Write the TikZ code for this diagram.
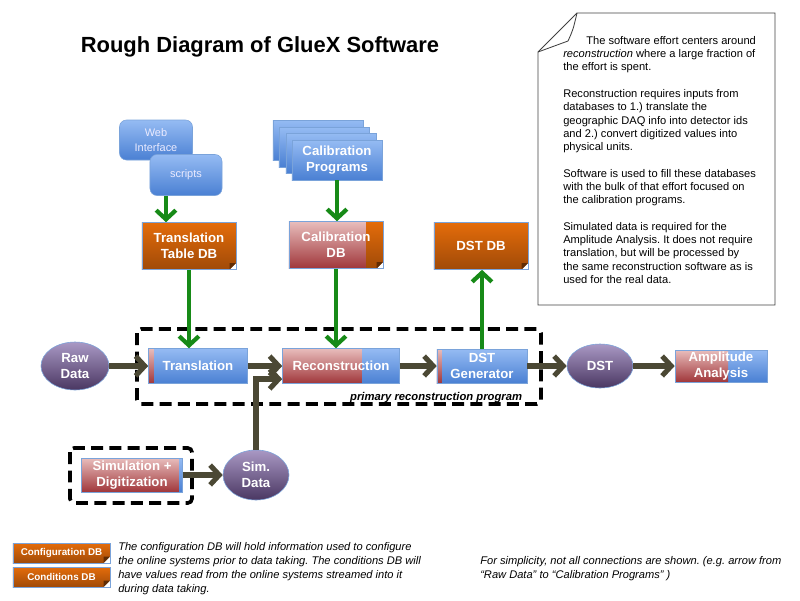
\documentclass[tikz,border=0pt]{standalone}
\usepackage{fontspec}
\setmainfont{Liberation Sans}
\usetikzlibrary{arrows.meta,shapes.geometric}
\frenchspacing

\definecolor{blueT}{HTML}{95BBF3}
\definecolor{blueB}{HTML}{4A80D3}
\definecolor{dbT}{HTML}{E46C0A}
\definecolor{dbB}{HTML}{A04A08}
\definecolor{redT}{HTML}{E8BDBC}
\definecolor{redB}{HTML}{A0363A}
\definecolor{purpT}{HTML}{A998C4}
\definecolor{purpB}{HTML}{4A3762}
\definecolor{edgeblue}{HTML}{7AA3DA}
\definecolor{flowcol}{HTML}{4B4834}
\definecolor{feedgreen}{HTML}{178A17}

% small folded corner of a database box
\newcommand{\dbfold}{%
  \fill[white] (path picture bounding box.south east) -- ++(-4.5pt,0pt) -- ++(4.5pt,4.5pt) -- cycle;
  \fill[dbB!60!black] ([xshift=-4.5pt]path picture bounding box.south east) -- ++(4.5pt,4.5pt) -- ++(-4.5pt,0pt) -- cycle;}

\begin{document}
\begin{tikzpicture}[x=0.025cm, y=-0.025cm, >={Straight Barb[length=6.5pt,width=14pt]},
    box/.style={draw=edgeblue, inner sep=0pt, align=center, text=white,
      font=\fontsize{9.4}{11.5}\selectfont\bfseries},
    prog/.style={box, top color=blueT, bottom color=blueB},
    dbbox/.style={box, top color=dbT, bottom color=dbB, path picture={\dbfold}},
    redpart/.style={path picture={\shade[top color=redT, bottom color=redB]
      (path picture bounding box.north west) rectangle ([xshift=#1]path picture bounding box.south west);}},
    datablob/.style={ellipse, draw=edgeblue, top color=purpT, bottom color=purpB, inner sep=0pt,
      text=white, align=center, font=\fontsize{9.4}{11.5}\selectfont\bfseries},
    dashbox/.style={draw=black, line width=2.6pt, dash pattern=on 8.5pt off 4.5pt, rounded corners=3pt},
    webbox/.style={draw=edgeblue, rounded corners=5pt, top color=blueT, bottom color=blueB, align=center,
      inner sep=0pt, text=white!92!blue, font=\fontsize{7.8}{11}\selectfont}]
  \useasboundingbox (0,0) rectangle (800,600);

  \node[font=\fontsize{15.6}{18}\selectfont\bfseries] (title) at (260,47) {Rough Diagram of GlueX Software};

  % groups of programs
  \draw[dashbox] (137,329) rectangle (541,404);
  \draw[dashbox] (70,448) rectangle (192,503);
  \node[font=\fontsize{8}{9.6}\selectfont\bfseries\itshape, anchor=base east] (primlabel) at (527,400)
    {primary reconstruction program};

  % inputs
  \node[webbox, minimum width=1.825cm, minimum height=1cm] (web) at (156,140) {Web\\Interface};
  \node[webbox, minimum width=1.8cm, minimum height=1.025cm] (scripts) at (186,175) {scripts};
  \begin{scope}[every node/.style={prog, minimum width=2.25cm, minimum height=1cm}]
    \node (calback1) at (318,140) {};
    \node (calback2) at (324,147) {};
    \node (calback3) at (331,153) {};
    \node (calprog) at (337,160) {Calibration\\Programs};
  \end{scope}

  % databases
  \begin{scope}[every node/.style={minimum width=2.35cm, minimum height=1.175cm}]
    \node[dbbox] (ttdb) at (189,246) {Translation\\Table DB};
    \node[box, top color=redT, bottom color=redB, path picture={\shade[top color=dbT, bottom color=dbB]
      ([xshift=-0.425cm]path picture bounding box.north east) rectangle (path picture bounding box.south east);
      \dbfold}] (caldb) at (336,245) {Calibration\\DB};
    \node[dbbox] (dstdb) at (481,246) {DST DB};
  \end{scope}

  % processing chain
  \node[datablob, minimum width=1.7cm, minimum height=1.2cm] (raw) at (75,366) {Raw\\Data};
  \node[prog, redpart=0.125cm, minimum width=2.475cm, minimum height=0.875cm] (trans) at (198,366) {Translation};
  \node[prog, redpart=1.975cm, minimum width=2.925cm, minimum height=0.875cm] (reco) at (341,366) {Reconstruction};
  \node[prog, redpart=0.125cm, minimum width=2.25cm, minimum height=0.85cm] (dstgen) at (482,366) {DST\\Generator};
  \node[datablob, minimum width=1.65cm, minimum height=1.1cm] (dst) at (600,366) {DST};
  \node[prog, redpart=1.325cm, minimum width=2.3cm, minimum height=0.8cm] (amp) at (721,366) {Amplitude\\Analysis};
  \node[box, top color=redT, bottom color=redB, path picture={\shade[top color=blueT, bottom color=blueB]
      ([xshift=-0.075cm]path picture bounding box.north east) rectangle (path picture bounding box.south east);},
    minimum width=2.525cm, minimum height=0.85cm] (simdig) at (132,475) {Simulation +\\Digitization};
  \node[datablob, minimum width=1.65cm, minimum height=1.25cm] (simdata) at (256,475) {Sim.\\Data};

  % database feeds
  \begin{scope}[every edge/.style={draw=feedgreen, line width=3pt}]
    \path[->] ([xshift=-0.5cm]scripts.south) edge ([xshift=-0.5cm]scripts.south |- ttdb.north);
    \path[->] (calprog.south) edge (calprog.south |- caldb.north);
    \path[->] (ttdb.south) edge (ttdb.south |- trans.north);
    \path[->] (caldb.south) edge (caldb.south |- reco.north);
    \path[->] (dstgen.north) edge (dstgen.north |- dstdb.south);
  \end{scope}

  % data flow
  \begin{scope}[every edge/.style={draw=flowcol, line width=3.6pt}]
    \path[->] (raw) edge (trans);
    \path[->] (trans) edge (reco);
    \path[->] (reco) edge (dstgen);
    \path[->] (dstgen) edge (dst);
    \path[->] (dst) edge (amp);
    \path[->] (simdig) edge (simdata);
    \path[->] (simdata.north) edge[to path={|- (\tikztotarget)}] ([yshift=-0.325cm]reco.west);
  \end{scope}

  % notes
  \draw[black!75, line width=0.6pt] (577,13) -- (775,13) -- (775,305) -- (538,305) -- (538,52) -- cycle;
  \draw[black!75, line width=0.6pt] (538,52) -- (568,41) .. controls (573,30) .. (577,13);
  \node[anchor=north west, align=left, inner sep=0pt, font=\fontsize{7.9}{9.45}\selectfont] (notetext) at (563,36)
    {\hspace*{0.575cm}The software effort centers around\\
     \textit{reconstruction} where a large fraction of\\
     the effort is spent.\\[9.45pt]
     Reconstruction requires inputs from\\
     databases to 1.) translate the\\
     geographic DAQ info into detector ids\\
     and 2.) convert digitized values into\\
     physical units.\\[9.45pt]
     Software is used to fill these databases\\
     with the bulk of that effort focused on\\
     the calibration programs.\\[9.45pt]
     Simulated data is required for the\\
     Amplitude Analysis. It does not require\\
     translation, but will be processed by\\
     the same reconstruction software as is\\
     used for the real data.};

  % legend
  \begin{scope}[every node/.style={box, top color=dbT, bottom color=dbB, path picture={\dbfold},
      minimum width=2.425cm, minimum height=0.5cm, font=\fontsize{7}{8}\selectfont\bfseries}]
    \node (confdb) at (61.5,553) {Configuration DB};
    \node (conddb) at (61.5,577) {Conditions DB};
  \end{scope}
  \node[anchor=north west, align=left, inner sep=0pt, font=\fontsize{7.9}{9.9}\selectfont\itshape] (legendtext) at (118,542)
    {The configuration DB will hold information used to configure\\
     the online systems prior to data taking. The conditions DB will\\
     have values read from the online systems streamed into it\\
     during data taking.};
  \node[anchor=north west, align=left, inner sep=0pt, font=\fontsize{7.9}{9.9}\selectfont\itshape] (simpletext) at (480,556)
    {For simplicity, not all connections are shown. (e.g. arrow from\\
     ``Raw Data'' to ``Calibration Programs'' )};
\end{tikzpicture}
\end{document}
